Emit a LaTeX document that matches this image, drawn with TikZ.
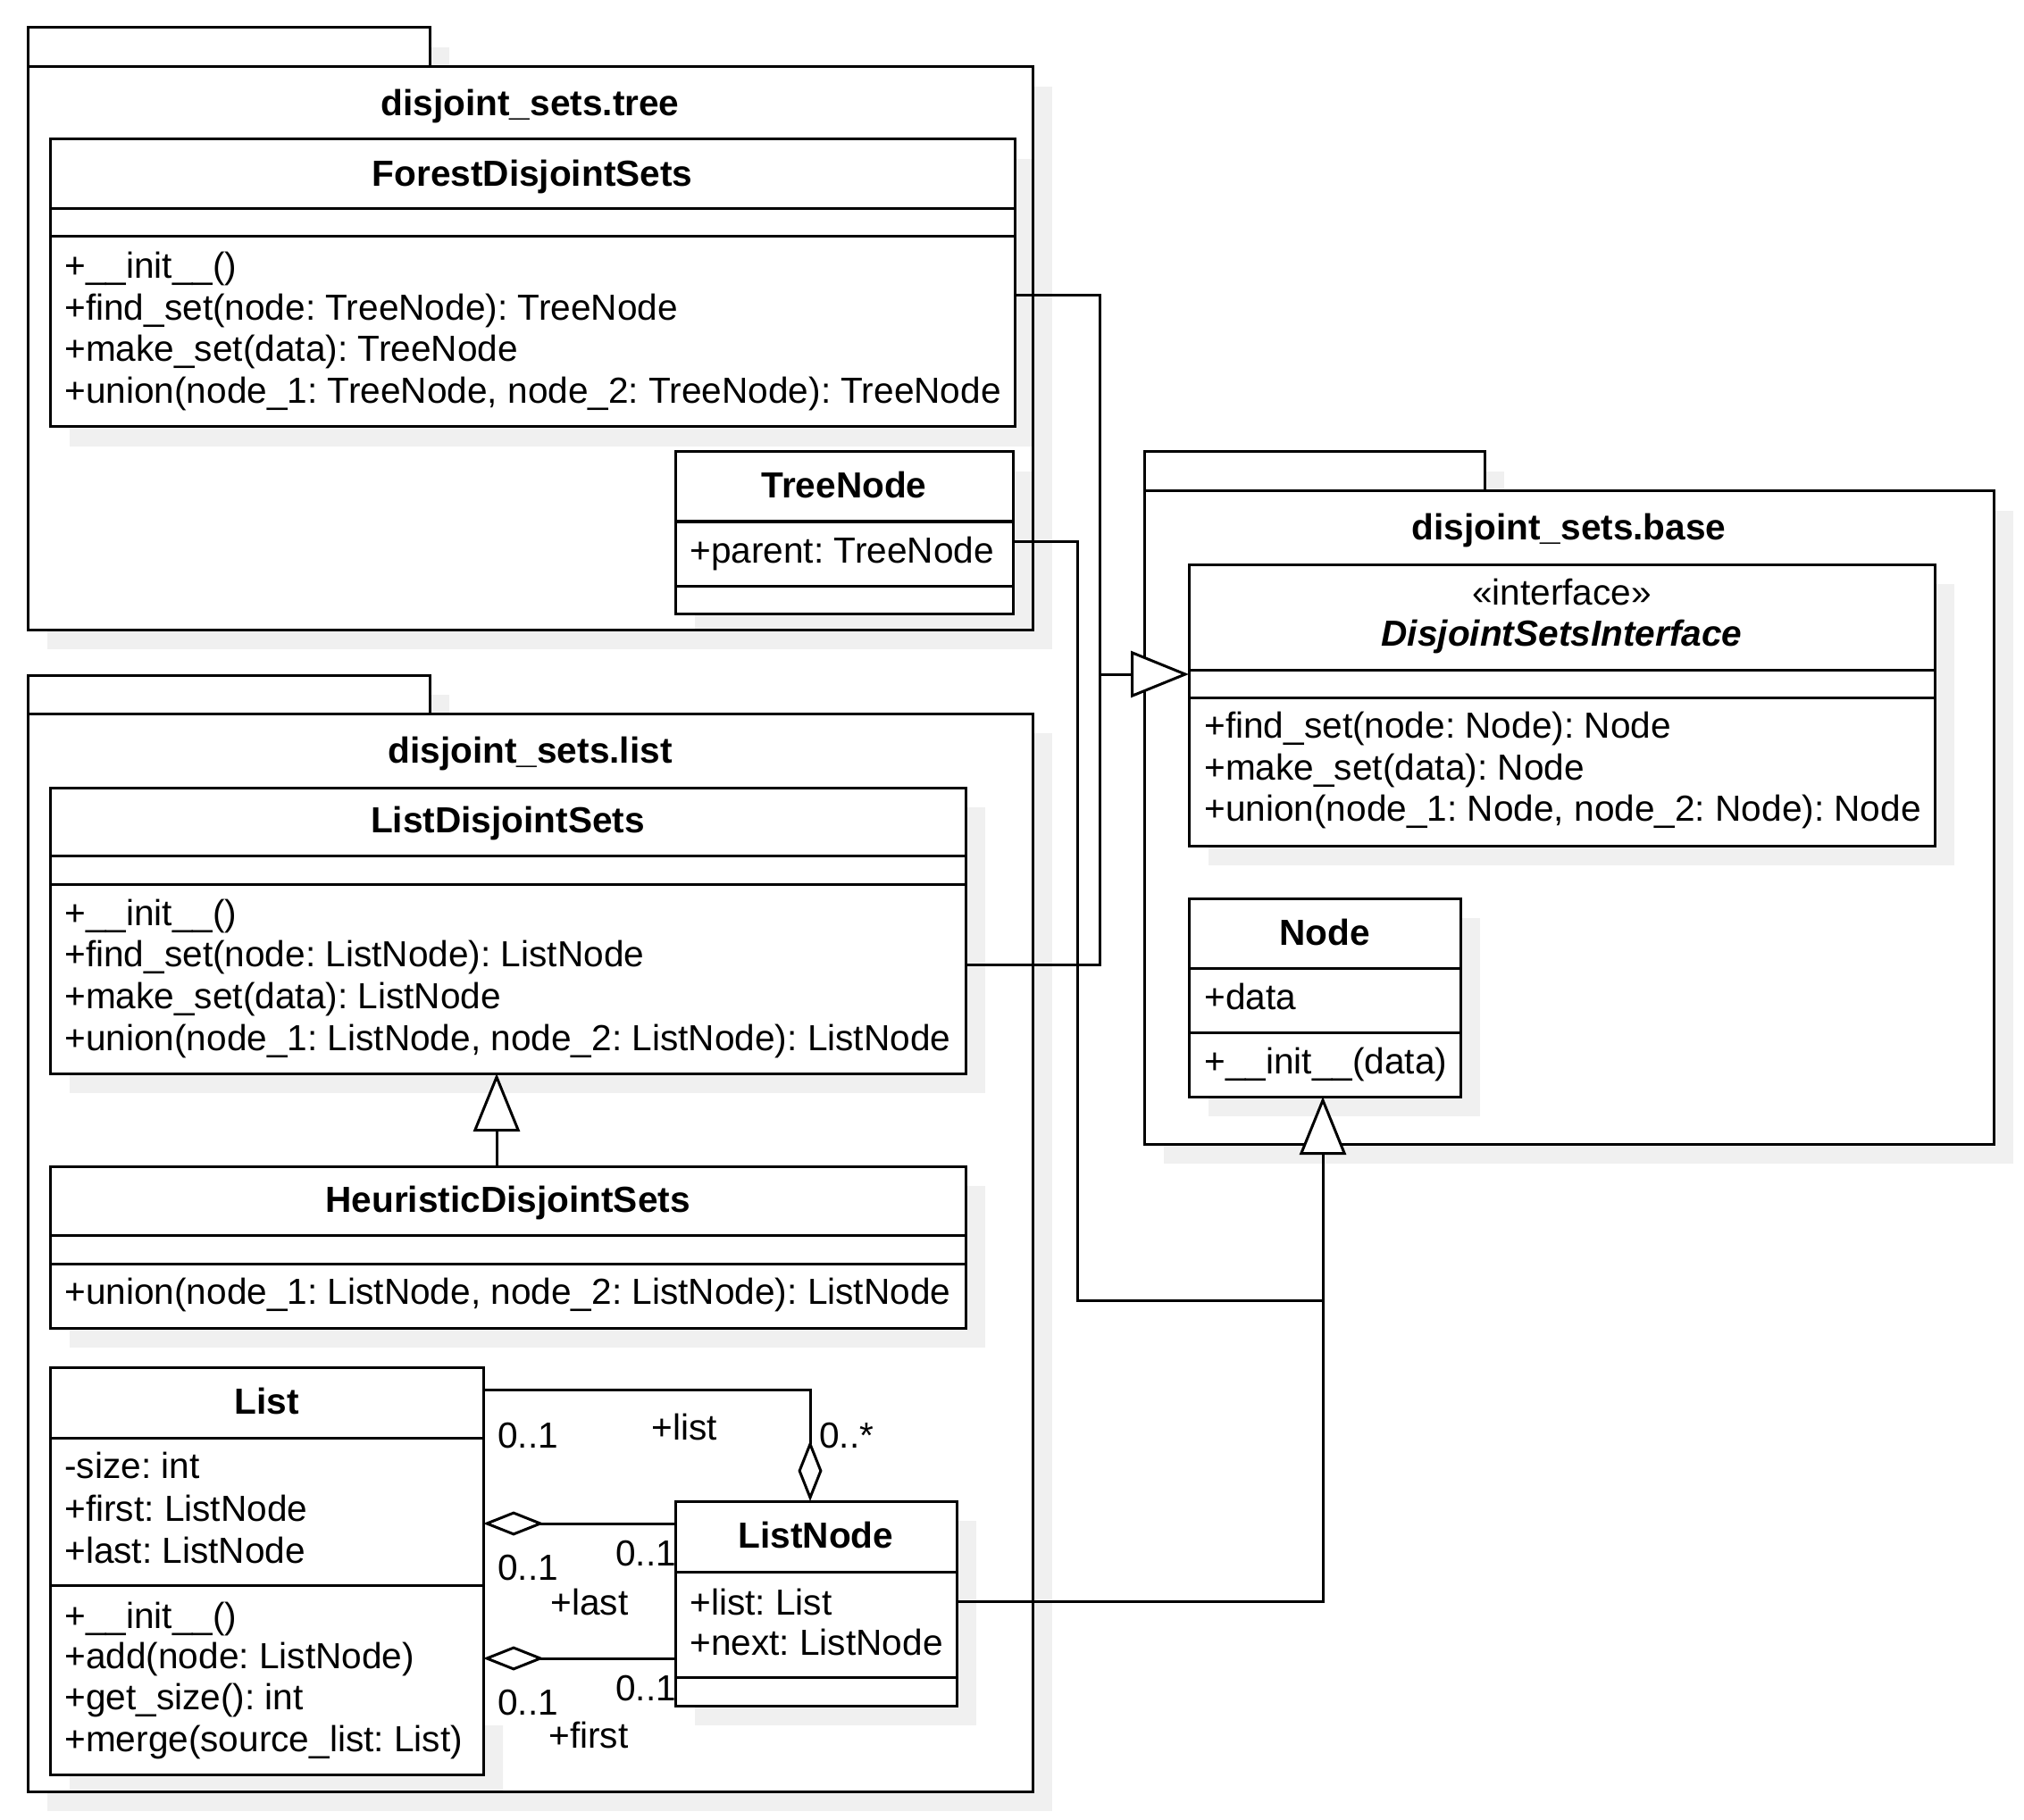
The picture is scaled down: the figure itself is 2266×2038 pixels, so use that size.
\documentclass[tikz,border=0pt]{standalone}
\usepackage{fontspec}
\setmainfont{Liberation Sans}
\usetikzlibrary{arrows.meta}
\definecolor{shadowc}{RGB}{240,240,240}
\newcommand\umlfont{\fontsize{20.3pt}{23.5pt}\selectfont\frenchspacing}
\tikzset{
  cls/.style={draw=black, fill=white, line width=1.5pt, rectangle, inner sep=0pt, outer sep=0pt, anchor=north west},
  pkgfill/.style={cls, draw=none},
  frame/.style={line width=1.5pt, draw=black},
  sh/.style={fill=shadowc},
  txt/.style={inner sep=0pt, anchor=mid west, font=\umlfont, yshift=-4pt},
  ttl/.style={inner sep=0pt, anchor=mid, font=\umlfont\bfseries, yshift=-4pt},
  sepline/.style={line width=1.5pt},
  conn/.style={line width=1.5pt, draw=black},
  inh/.style={conn, -{Triangle[fill=white, length=32.5pt, width=26pt]}},
  agg/.style={conn, -{Diamond[fill=white, length=34pt, width=13.5pt]}},
}
% box: name x1 y1 x2 y2
\newcommand\umlbox[5]{%
  \fill[sh] ({#2+22},{#3+22}) rectangle ({#4+22},{#5+22});
  \node[cls, minimum width={(#4-(#2))*0.5pt}, minimum height={(#5-(#3))*0.5pt}] (#1) at (#2,#3) {};
}
% package: body tab x1 ytabtop ybodytop xtabright xbodyright ybodybottom
\newcommand\umlpkg[8]{%
  \fill[sh] ({#3+22},{#4+22}) rectangle ({#6+22},{#5+22});
  \fill[sh] ({#3+22},{#5+22}) rectangle ({#7+22},{#8+22});
  \node[pkgfill, minimum width={(#6-(#3))*0.5pt}, minimum height={(#5-(#4))*0.5pt}] (#2) at (#3,#4) {};
  \node[pkgfill, minimum width={(#7-(#3))*0.5pt}, minimum height={(#8-(#5))*0.5pt}] (#1) at (#3,#5) {};
}
% package outline, drawn over the shadows of its classes
\newcommand\umlframe[2]{%
  \draw[frame] (#2.north west) rectangle (#2.south east);
  \draw[frame] (#1.north west) rectangle (#1.south east);
}
\newcommand\umlsep[2]{\draw[sepline] (#1.west |- 0,#2) -- (#1.east |- 0,#2);}
\begin{document}
\begin{tikzpicture}[x=0.5pt, y=-0.5pt]
\fill[white] (0,0) rectangle (2266,2038);
\useasboundingbox (0,0) rectangle (2266,2038);

% ===== package disjoint_sets.tree =====
\umlpkg{treepkg}{treetab}{31}{31}{75}{481}{1156}{705}
\node[ttl] (treettl) at (593.5,116) {disjoint\_sets.tree};

\umlbox{fds}{56}{156}{1136}{478}
\umlsep{fds}{234}
\umlsep{fds}{265}
\node[ttl] (fdsn) at (596,195) {ForestDisjointSets};
\node[txt] (fdsm1) at (72,298) {+\_\_init\_\_()};
\node[txt] (fdsm2) at (72,345) {+find\_set(node: TreeNode): TreeNode};
\node[txt] (fdsm3) at (72,391) {+make\_set(data): TreeNode};
\node[txt] (fdsm4) at (72,438) {+union(node\_1: TreeNode, node\_2: TreeNode): TreeNode};

\umlbox{tn}{756}{506}{1134}{687}
\umlsep{tn}{584}
\umlsep{tn}{656}
\node[ttl] (tnn) at (945,544) {TreeNode};
\node[txt] (tna1) at (772,617) {+parent: TreeNode};
\umlframe{treepkg}{treetab}

% ===== package disjoint_sets.list =====
\umlpkg{listpkg}{listtab}{31}{756}{799}{481}{1156}{2006}
\node[ttl] (listttl) at (593.5,841) {disjoint\_sets.list};

\umlbox{lds}{56}{882}{1081}{1202}
\umlsep{lds}{958}
\umlsep{lds}{990}
\node[ttl] (ldsn) at (568.5,919) {ListDisjointSets};
\node[txt] (ldsm1) at (72,1023) {+\_\_init\_\_()};
\node[txt] (ldsm2) at (72,1069) {+find\_set(node: ListNode): ListNode};
\node[txt] (ldsm3) at (72,1116) {+make\_set(data): ListNode};
\node[txt] (ldsm4) at (72,1163) {+union(node\_1: ListNode, node\_2: ListNode): ListNode};

\umlbox{hds}{56}{1306}{1081}{1487}
\umlsep{hds}{1383}
\umlsep{hds}{1415}
\node[ttl] (hdsn) at (568.5,1344) {HeuristicDisjointSets};
\node[txt] (hdsm1) at (72,1447) {+union(node\_1: ListNode, node\_2: ListNode): ListNode};

% List (shadow partly hidden by label backgrounds)
\fill[sh] (541,1932) -- (563,1932) -- (563,2009) -- (78,2009) -- (78,1987) -- (541,1987) -- cycle;
\node[cls, minimum width={(541-56)*0.5pt}, minimum height={(1987-1531)*0.5pt}] (lst) at (56,1531) {};
\umlsep{lst}{1610}
\umlsep{lst}{1775}
\node[ttl] (lstn) at (298.5,1570) {List};
\node[txt] (lsta1) at (72,1642) {-size: int};
\node[txt] (lsta2) at (72,1690) {+first: ListNode};
\node[txt] (lsta3) at (72,1737) {+last: ListNode};
\node[txt] (lstm1) at (72,1810) {+\_\_init\_\_()};
\node[txt] (lstm2) at (72,1855) {+add(node: ListNode)};
\node[txt] (lstm3) at (72,1901) {+get\_size(): int};
\node[txt] (lstm4) at (72,1948) {+merge(source\_list: List)};

\umlbox{lnode}{756}{1681}{1071}{1910}
\umlsep{lnode}{1760}
\umlsep{lnode}{1878}
\node[ttl] (lnoden) at (913.5,1720) {ListNode};
\node[txt] (lnodea1) at (772,1795) {+list: List};
\node[txt] (lnodea2) at (772,1840) {+next: ListNode};
\umlframe{listpkg}{listtab}

% ===== package disjoint_sets.base =====
\umlpkg{basepkg}{basetab}{1281}{506}{550}{1662}{2232}{1281}
\node[ttl] (basettl) at (1756.5,591) {disjoint\_sets.base};

\umlbox{iface}{1331}{632}{2166}{947}
\umlsep{iface}{750}
\umlsep{iface}{781}
\node[txt, anchor=mid] (ifst) at (1748.5,664) {«interface»};
\node[ttl, font=\umlfont\bfseries\itshape] (ifacen) at (1748.5,710) {DisjointSetsInterface};
\node[txt] (ifm1) at (1348,813) {+find\_set(node: Node): Node};
\node[txt] (ifm2) at (1348,860) {+make\_set(data): Node};
\node[txt] (ifm3) at (1348,906) {+union(node\_1: Node, node\_2: Node): Node};

\umlbox{nd}{1331}{1006}{1635}{1228}
\umlsep{nd}{1084}
\umlsep{nd}{1156}
\node[ttl] (ndn) at (1483,1045) {Node};
\node[txt] (nda1) at (1348,1117) {+data};
\node[txt] (ndm1) at (1348,1189) {+\_\_init\_\_(data)};
\umlframe{basepkg}{basetab}

% ===== connectors =====
\coordinate (ja) at (1231,755);
\draw[conn] (fds.east |- 0,331) -| (ja);
\draw[conn] (lds.east |- 0,1080) -| (ja);
\draw[inh] (ja) -- (iface.west |- ja);

\coordinate (jc) at (1206,1456);
\coordinate (jb) at (1481,1456);
\draw[conn] (tn.east |- 0,606) -| (jc) -- (jb);
\draw[conn] (lnode.east |- 0,1793) -| (jb);
\draw[inh] (jb) -- (nd.south -| jb);

\draw[inh] (hds.north -| 556,0) -- (lds.south -| 556,0);

\coordinate (jl) at (907,1556);
\draw[agg] (lst.east |- jl) -- (jl) -- (lnode.north -| jl);
\draw[agg] (lnode.west |- 0,1706) -- (lst.east |- 0,1706);
\draw[agg] (lnode.west |- 0,1857) -- (lst.east |- 0,1857);

% ===== association labels =====
\node[txt] (mult1) at (557,1608) {0..1};
\node[txt] (role1) at (729,1599) {+list};
\node[txt] (mult2) at (917,1608) {0..*};
\node[txt] (mult3) at (557,1756) {0..1};
\node[txt] (mult4) at (689,1740) {0..1};
\node[txt] (role2) at (616,1795) {+last};
\node[txt] (mult5) at (557,1907) {0..1};
\node[txt] (mult6) at (689,1891) {0..1};
\node[txt] (role3) at (614,1944) {+first};
\end{tikzpicture}
\end{document}
